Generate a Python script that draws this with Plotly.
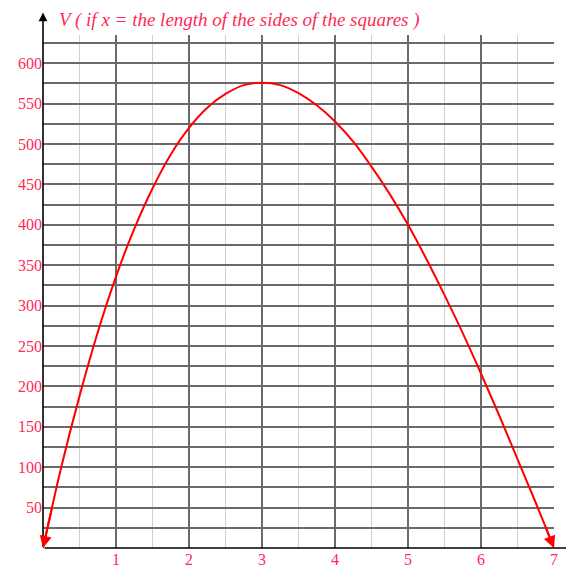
import plotly.graph_objects as go

# side length of the cut-out squares (x) and the box volume
x_vals = [0, 0.25, 0.5, 0.75, 1, 1.25, 1.5, 1.75, 2, 2.25, 2.5, 2.75, 3,
          3.25, 3.5, 3.75, 4, 4.25, 4.5, 4.75, 5, 5.25, 5.5, 5.75, 6,
          6.25, 6.5, 6.75, 7]
volume = [0, 100, 188, 267, 336, 395, 445, 487, 520, 545, 562, 573, 576,
          573, 563, 548, 528, 503, 472, 438, 400, 358, 313, 266, 216,
          164, 110, 56, 0]

x_ticks = [1, 2, 3, 4, 5, 6, 7]
y_grid = list(range(25, 650, 25))
y_labels = [str(v) if v % 50 == 0 and v <= 600 else "" for v in y_grid]

red = "#ff0000"
label_red = "#ff2a55"
serif = "Liberation Serif"

fig = go.Figure()
fig.add_trace(go.Scatter(x=x_vals, y=volume, mode="lines",
                         line=dict(color=red, width=2, shape="spline"),
                         hoverinfo="skip", cliponaxis=False))

# axes with arrows
fig.add_annotation(x=0, y=663, ax=0, ay=0, xref="x", yref="y", axref="x", ayref="y",
                   text="", showarrow=True, arrowhead=2, arrowsize=1.1,
                   arrowwidth=1.6, arrowcolor="black")
fig.add_annotation(x=7.29, y=0, ax=0, ay=0, xref="x", yref="y", axref="x", ayref="y",
                   text="", showarrow=True, arrowhead=2, arrowsize=1.1,
                   arrowwidth=1.6, arrowcolor="black")

# arrowheads at both ends of the curve
fig.add_annotation(x=x_vals[0], y=volume[0], ax=x_vals[1] * 0.5, ay=volume[1] * 0.5,
                   xref="x", yref="y", axref="x", ayref="y", text="",
                   showarrow=True, arrowhead=2, arrowsize=1.2, arrowwidth=2, arrowcolor=red)
fig.add_annotation(x=x_vals[-1], y=volume[-1], ax=(x_vals[-1] + x_vals[-2]) / 2,
                   ay=volume[-2] * 0.5,
                   xref="x", yref="y", axref="x", ayref="y", text="",
                   showarrow=True, arrowhead=2, arrowsize=1.2, arrowwidth=2, arrowcolor=red)

fig.add_annotation(x=0.027, y=1.03, xref="paper", yref="paper", xanchor="left",
                   yanchor="middle", showarrow=False,
                   text="<i>V ( if x = the length of the sides of the squares )</i>",
                   font=dict(family=serif, size=19, color=label_red))
fig.add_annotation(x=1.027, y=-0.034, xref="paper", yref="paper", xanchor="left",
                   yanchor="middle", showarrow=False, text="<i>x</i>",
                   font=dict(family=serif, size=17, color=label_red))

fig.update_xaxes(range=[0, 7], tickvals=x_ticks, ticktext=[str(t) for t in x_ticks],
                 showgrid=True, gridcolor="#6a6a6a", gridwidth=1.5,
                 minor=dict(dtick=0.5, showgrid=True, gridcolor="#d0d0d0", gridwidth=1.2),
                 zeroline=False, showline=False, ticks="", automargin=False,
                 tickfont=dict(family=serif, size=16, color=label_red))
fig.update_yaxes(range=[0, 635], tickvals=y_grid, ticktext=y_labels,
                 showgrid=True, gridcolor="#6a6a6a", gridwidth=1.5,
                 zeroline=False, showline=False, ticks="", automargin=False,
                 ticklabelstandoff=0,
                 tickfont=dict(family=serif, size=16, color=label_red))

# the page body adds an 8px offset, so the figure is sized to the remaining window
fig.update_layout(width=566, height=561, showlegend=False,
                  margin=dict(l=35, r=20, t=27, b=21, autoexpand=False),
                  plot_bgcolor="white", paper_bgcolor="white")

fig.write_html("out.html")
